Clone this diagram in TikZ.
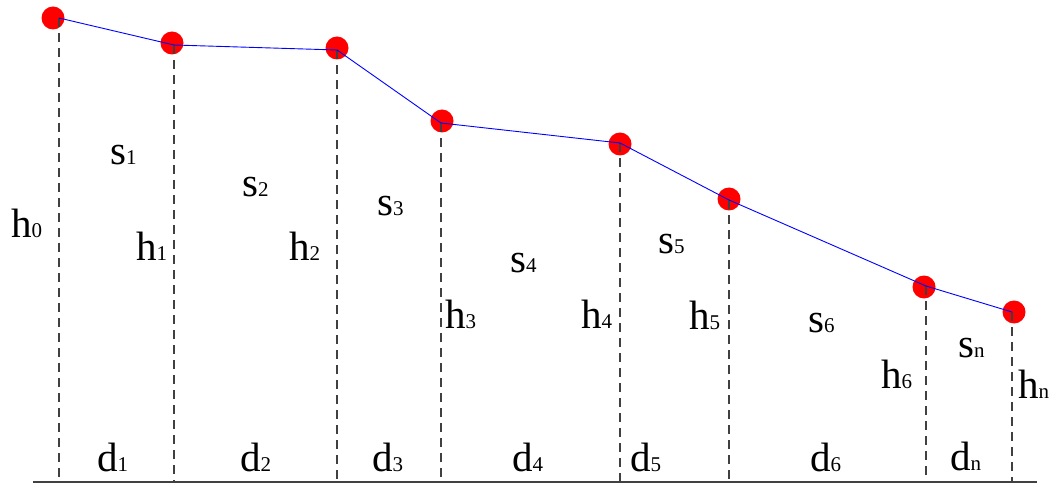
\documentclass[tikz,border=0pt]{standalone}
\usepackage{fontspec}
\setmainfont{Liberation Serif}
\usetikzlibrary{positioning}

\newcommand{\subidx}[1]{{\fontsize{21}{21}\selectfont #1}}

\begin{document}
\begin{tikzpicture}[x=1pt, y=-1pt,
			dot/.style={circle, fill=red, inner sep=0pt, minimum size=23pt},
			guide/.style={draw=black!75, dash pattern=on 9pt off 6pt, line width=1.1pt},
			profile/.style={draw=blue, line width=0.9pt},
			lab/.style={anchor=base west, inner sep=0pt, font=\rmfamily\fontsize{41}{41}\selectfont}]
			
			\useasboundingbox (0,0) rectangle (1059,486);
			
			% 折线顶点
			\coordinate (v0) at (59,18);
			\coordinate (v1) at (174,45);
			\coordinate (v2) at (337,50);
			\coordinate (v3) at (441,123);
			\coordinate (v4) at (620,143);
			\coordinate (v5) at (729,200);
			\coordinate (v6) at (926,286);
			\coordinate (vn) at (1012,312);
			\coordinate (left) at (33,482);
			\coordinate (right) at (1037,482);
			
			% 红点
			\node[dot] (dot0) at (53,18) {};
			\node[dot] (dot1) at (172,43) {};
			\node[dot] (dot2) at (337,48) {};
			\node[dot] (dot3) at (442,121) {};
			\node[dot] (dot4) at (620,144) {};
			\node[dot] (dot5) at (729,199) {};
			\node[dot] (dot6) at (924,287) {};
			\node[dot] (dotn) at (1014,312) {};
			
			% 虚线与底线
			\draw[guide] (v0) -- (v0 |- left);
			\draw[guide] (v1) -- (v1 |- left);
			\draw[guide] (v2) -- (v2 |- left);
			\draw[guide] (v3) -- (v3 |- left);
			\draw[guide] (v4) -- (v4 |- left);
			\draw[guide] (v5) -- (v5 |- left);
			\draw[guide] (v6) -- (v6 |- left);
			\draw[guide] (vn) -- (vn |- left);
			\draw[black!75, line width=1.4pt] (left) -- (right);
			
			% 折线
			\draw[profile] (v0) -- (v1) -- (v2) -- (v3) -- (v4) -- (v5) -- (v6) -- (vn);
			
			% 高度
			\node[lab] (h0) at (11,237) {h\subidx{0}};
			\node[lab] (h1) at (136,260) {h\subidx{1}};
			\node[lab] (h2) at (289,260) {h\subidx{2}};
			\node[lab] (h3) at (445,328) {h\subidx{3}};
			\node[lab] (h4) at (581,328) {h\subidx{4}};
			\node[lab] (h5) at (689,329) {h\subidx{5}};
			\node[lab] (h6) at (881,388) {h\subidx{6}};
			\node[lab] (hn) at (1018,398) {h\subidx{n}};
			
			% 坡段
			\node[lab] (s1) at (110,165) {s\subidx{1}};
			\node[lab] (s2) at (242,197) {s\subidx{2}};
			\node[lab] (s3) at (377,216) {s\subidx{3}};
			\node[lab] (s4) at (510,272) {s\subidx{4}};
			\node[lab] (s5) at (658,253) {s\subidx{5}};
			\node[lab] (s6) at (808,332) {s\subidx{6}};
			\node[lab] (sn) at (958,357) {s\subidx{n}};
			
			% 水平距离
			\node[lab] (d1) at (97,471) {d\subidx{1}};
			\node[lab] (d2) at (240,471) {d\subidx{2}};
			\node[lab] (d3) at (372,471) {d\subidx{3}};
			\node[lab] (d4) at (512,471) {d\subidx{4}};
			\node[lab] (d5) at (630,471) {d\subidx{5}};
			\node[lab] (d6) at (810,471) {d\subidx{6}};
			\node[lab] (dn) at (950,470) {d\subidx{n}};
			
		\end{tikzpicture}
\end{document}
